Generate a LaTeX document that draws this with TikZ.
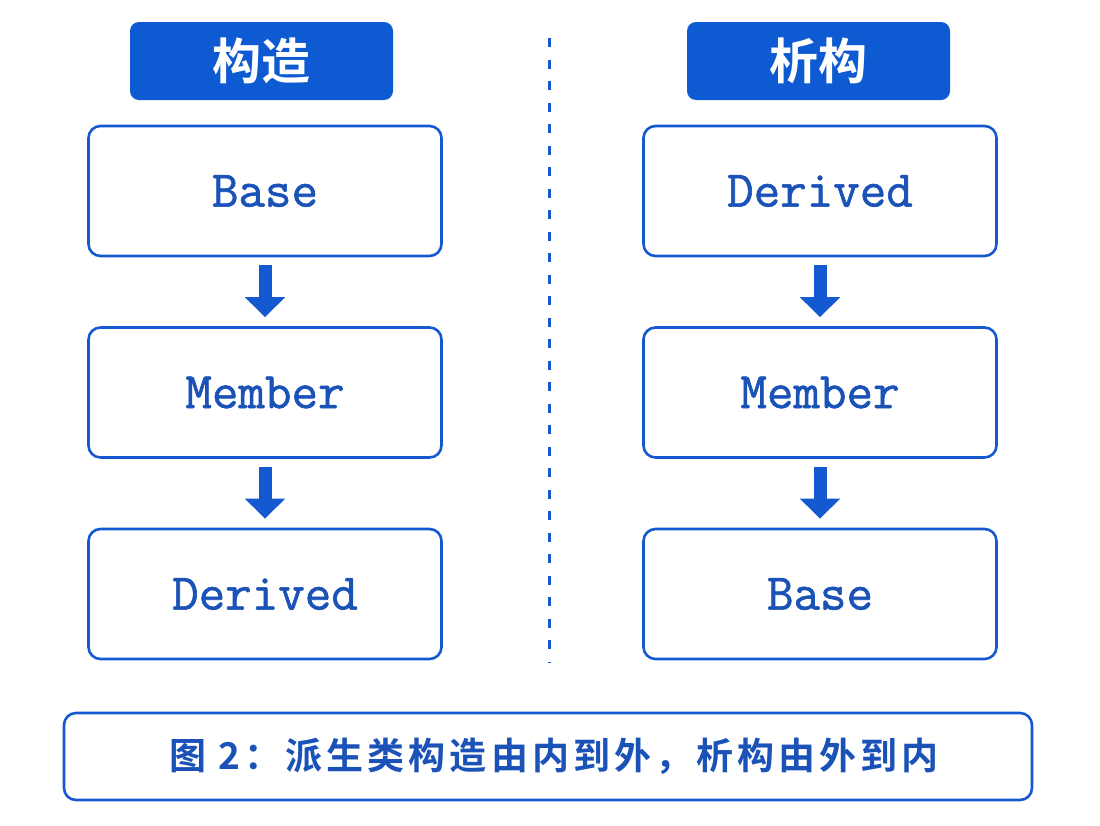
\documentclass[tikz,border=0pt]{standalone}
\usepackage{fontspec}
\newfontfamily\cjk{Noto Sans CJK SC}[BoldFont={Noto Sans CJK SC Bold}]
\newfontfamily\cjkcap{Noto Sans CJK SC Bold}[LetterSpace=11]
\newfontfamily\mono{Latin Modern Mono}[FakeBold=1.2]
\usetikzlibrary{arrows.meta}
\definecolor{mblue}{HTML}{1459CF}
\definecolor{hblue}{HTML}{0D5AD2}
\definecolor{tblue}{HTML}{1A52B8}
\begin{document}
\begin{tikzpicture}[x=1pt,y=-1pt,
  hdr/.style={fill=hblue, rounded corners=9pt, minimum width=263pt, minimum height=78pt, inner sep=0pt, text=white, font=\cjk\bfseries\fontsize{49}{55}\selectfont},
  cbox/.style={draw=mblue, line width=2.6pt, fill=white, rounded corners=12pt, minimum width=353pt, minimum height=130pt, inner sep=0pt, text=tblue, font=\mono\fontsize{51.5}{60}\selectfont},
  flow/.style={draw=mblue, line width=13pt, shorten <=8pt, shorten >=9pt, -{Triangle[width=39pt,length=20pt]}},
  sepline/.style={draw=mblue, line width=3pt, dash pattern=on 9pt off 12.5pt},
  capbox/.style={draw=mblue, line width=2.6pt, fill=white, rounded corners=12pt, minimum width=968pt, minimum height=87pt, inner sep=0pt, text=tblue, font=\cjkcap\fontsize{37}{44}\selectfont}
]
\useasboundingbox[fill=white] (0,0) rectangle (1100,825);
\node[hdr] (h1) at (261.5,61) {构造};
\node[hdr] (h2) at (818.5,61) {析构};
\node[cbox] (l1) at (265,191) {Base};
\node[cbox] (l2) at (265,392.5) {Member};
\node[cbox] (l3) at (265,594) {Derived};
\node[cbox] (r1) at (820,191) {Derived};
\node[cbox] (r2) at (820,392.5) {Member};
\node[cbox] (r3) at (820,594) {Base};
\draw[flow] (l1) -- (l2);
\draw[flow] (l2) -- (l3);
\draw[flow] (r1) -- (r2);
\draw[flow] (r2) -- (r3);
\coordinate (d1) at (549,38);
\coordinate (d2) at (549,662);
\draw[sepline] (d1) -- (d2);
\node[capbox] (c) at (548,756.5) {\hspace*{12pt}图 2：派生类构造由内到外，析构由外到内};
\end{tikzpicture}
\end{document}
